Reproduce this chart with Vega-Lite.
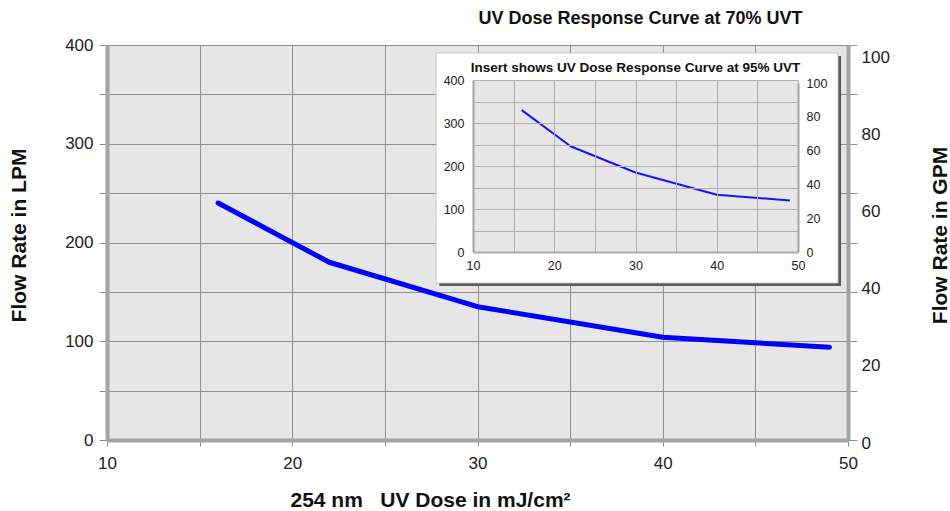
{
  "$schema": "https://vega.github.io/schema/vega-lite/v6.json",
  "width": 741,
  "height": 395,
  "autosize": {"type": "none"},
  "padding": {"left": 107, "top": 45, "right": 102, "bottom": 71},
  "background": "white",
  "title": {
    "text": "UV Dose Response Curve at 70% UVT",
    "anchor": "middle",
    "frame": "group",
    "dx": 163,
    "offset": 8,
    "font": "Liberation Sans",
    "fontSize": 18,
    "fontWeight": "bold",
    "color": "#111111"
  },
  "config": {
    "view": {"fill": "#e6e6e6", "stroke": null},
    "font": "Liberation Sans"
  },
  "datasets": {
    "uvt70": [
      {"dose": 16, "lpm": 240},
      {"dose": 22, "lpm": 180},
      {"dose": 30, "lpm": 135},
      {"dose": 40, "lpm": 104},
      {"dose": 49, "lpm": 94}
    ],
    "uvt95": [
      {"dose": 16, "lpm": 330},
      {"dose": 22, "lpm": 246},
      {"dose": 30, "lpm": 185},
      {"dose": 40, "lpm": 133},
      {"dose": 49, "lpm": 120}
    ],
    "inset": [
      {"label": "Insert shows UV Dose Response Curve at 95% UVT"}
    ]
  },
  "layer": [
    {
      "layer": [
        {
          "data": {"name": "uvt70"},
          "mark": {"type": "line", "color": "#0000ff", "strokeWidth": 5, "strokeCap": "round", "strokeJoin": "round"},
          "encoding": {
            "x": {
              "field": "dose", "type": "quantitative",
              "scale": {"domain": [10, 50], "nice": false, "zero": false},
              "axis": {
                "orient": "bottom",
                "zindex": 0,
                "values": [10, 15, 20, 25, 30, 35, 40, 45, 50],
                "labelExpr": "datum.value % 10 === 0 ? datum.label : ''",
                "grid": true, "gridColor": "#8f8f8f", "gridWidth": 1,
                "domain": true, "domainColor": "#a3a3a3", "domainWidth": 4,
                "ticks": true, "tickColor": "#8f8f8f", "tickSize": 6, "tickWidth": 1,
                "labelFont": "Liberation Sans", "labelFontSize": 17, "labelColor": "#222222",
                "labelPadding": 9, "labelFlush": false, "labelBound": false,
                "title": "254 nm\u00a0\u00a0\u00a0UV Dose in mJ/cm²",
                "titleFont": "Liberation Sans", "titleFontSize": 21, "titleFontWeight": "bold",
                "titleColor": "#111111", "titleX": 323, "titleY": 66,
                "titleAlign": "center", "titleBaseline": "alphabetic", "titleAnchor": null
              }
            },
            "y": {
              "field": "lpm", "type": "quantitative",
              "scale": {"domain": [0, 400], "nice": false},
              "axis": {
                "orient": "left",
                "zindex": 0,
                "values": [0, 50, 100, 150, 200, 250, 300, 350, 400],
                "labelExpr": "datum.value % 100 === 0 ? datum.label : ''",
                "grid": true, "gridColor": "#8f8f8f", "gridWidth": 1,
                "domain": true, "domainColor": "#a3a3a3", "domainWidth": 4,
                "ticks": true, "tickColor": "#8f8f8f", "tickSize": 8, "tickWidth": 1,
                "labelFont": "Liberation Sans", "labelFontSize": 17, "labelColor": "#222222",
                "labelPadding": 6, "labelBound": false,
                "title": "Flow Rate in LPM",
                "titleFont": "Liberation Sans", "titleFontSize": 21, "titleFontWeight": "bold",
                "titleColor": "#111111", "titleX": -88, "titleY": 190, "titleAngle": 270,
                "titleAlign": "center", "titleBaseline": "middle", "titleAnchor": null
              }
            }
          }
        },
        {
          "data": {"name": "inset"},
          "mark": {"type": "rule", "opacity": 0},
          "encoding": {
            "y": {
              "datum": 0, "type": "quantitative",
              "scale": {"domain": [0, 100], "range": [398, 12], "nice": false, "zero": false},
              "axis": {
                "orient": "right",
                "zindex": 0,
                "values": [0, 20, 40, 60, 80, 100],
                "grid": false, "domain": false, "ticks": false,
                "labelFont": "Liberation Sans", "labelFontSize": 17, "labelColor": "#222222",
                "labelPadding": 13, "labelBound": false,
                "title": "Flow Rate in GPM",
                "titleFont": "Liberation Sans", "titleFontSize": 21, "titleFontWeight": "bold",
                "titleColor": "#111111", "titleX": 92, "titleY": 190, "titleAngle": 270,
                "titleAlign": "center", "titleBaseline": "middle", "titleAnchor": null
              }
            }
          }
        },
        {
          "data": {"name": "inset"},
          "mark": {"type": "rule", "opacity": 0},
          "encoding": {
            "y": {
              "datum": 0, "type": "quantitative",
              "scale": {"domain": [0, 400], "nice": false, "zero": false},
              "axis": {
                "orient": "right",
                "zindex": 0,
                "values": [0, 50, 100, 150, 200, 250, 300, 350, 400],
                "grid": false, "labels": false,
                "domain": true, "domainColor": "#a3a3a3", "domainWidth": 4,
                "ticks": true, "tickColor": "#8f8f8f", "tickSize": 9, "tickWidth": 1,
                "title": null
              }
            }
          }
        }
      ],
      "resolve": {"scale": {"y": "independent"}, "axis": {"y": "independent"}}
    },
    {
      "layer": [
        {
          "layer": [
            {
              "data": {"name": "inset"},
              "mark": {"type": "rect", "fill": "#5a5a5a"},
              "encoding": {
                "x": {"datum": 5.85, "type": "quantitative", "scale": {"domain": [10, 50], "range": [366, 691], "nice": false, "zero": false}},
                "x2": {"datum": 55.3},
                "y": {"datum": -79, "type": "quantitative", "scale": {"domain": [0, 400], "range": [207, 35], "nice": false, "zero": false}},
                "y2": {"datum": 456}
              }
            },
            {
              "data": {"name": "inset"},
              "mark": {"type": "rect", "fill": "#ffffff", "stroke": "#c8c8c8", "strokeWidth": 1},
              "encoding": {
                "x": {"datum": 5.45, "type": "quantitative", "scale": {"domain": [10, 50], "range": [366, 691], "nice": false, "zero": false}},
                "x2": {"datum": 54.92},
                "y": {"datum": -72, "type": "quantitative", "scale": {"domain": [0, 400], "range": [207, 35], "nice": false, "zero": false}},
                "y2": {"datum": 462.8}
              }
            },
            {
              "data": {"name": "inset"},
              "mark": {"type": "rect", "fill": "#e6e6e6"},
              "encoding": {
                "x": {"datum": 10, "type": "quantitative", "scale": {"domain": [10, 50], "range": [366, 691], "nice": false, "zero": false}},
                "x2": {"datum": 50},
                "y": {"datum": 0, "type": "quantitative", "scale": {"domain": [0, 400], "range": [207, 35], "nice": false, "zero": false}},
                "y2": {"datum": 400}
              }
            },
            {
              "data": {"name": "uvt95"},
              "mark": {"type": "line", "color": "#1414ff", "strokeWidth": 2, "strokeJoin": "round"},
              "encoding": {
                "x": {
                  "field": "dose", "type": "quantitative",
                  "scale": {"domain": [10, 50], "range": [366, 691], "nice": false, "zero": false},
                  "axis": {
                    "orient": "bottom", "offset": -188, "zindex": 1,
                    "values": [10, 15, 20, 25, 30, 35, 40, 45, 50],
                    "labelExpr": "datum.value % 10 === 0 ? datum.label : ''",
                    "grid": false,
                    "domain": true, "domainColor": "#a3a3a3", "domainWidth": 2,
                    "ticks": true, "tickColor": "#b0b0b0", "tickSize": -172, "tickWidth": 1,
                    "labelFont": "Liberation Sans", "labelFontSize": 12.5, "labelColor": "#222222",
                    "labelPadding": 179, "labelFlush": false, "labelBound": false, "labelOverlap": false,
                    "title": null
                  }
                },
                "y": {
                  "field": "lpm", "type": "quantitative",
                  "scale": {"domain": [0, 400], "range": [207, 35], "nice": false, "zero": false},
                  "axis": {
                    "orient": "left", "offset": -366, "zindex": 1,
                    "values": [0, 50, 100, 150, 200, 250, 300, 350, 400],
                    "labelExpr": "datum.value % 100 === 0 ? datum.label : ''",
                    "grid": false,
                    "domain": true, "domainColor": "#a3a3a3", "domainWidth": 2,
                    "ticks": true, "tickColor": "#b0b0b0", "tickSize": -325, "tickWidth": 1,
                    "labelFont": "Liberation Sans", "labelFontSize": 12.5, "labelColor": "#222222",
                    "labelPadding": 334, "labelBound": false, "labelOverlap": false,
                    "title": null
                  }
                }
              }
            },
            {
              "data": {"name": "inset"},
              "mark": {"type": "text", "font": "Liberation Sans", "fontSize": 13.5, "fontWeight": "bold", "color": "#111111", "baseline": "alphabetic", "align": "center"},
              "encoding": {
                "x": {"datum": 30, "type": "quantitative", "scale": {"domain": [10, 50], "range": [366, 691], "nice": false, "zero": false}},
                "y": {"datum": 418, "type": "quantitative", "scale": {"domain": [0, 400], "range": [207, 35], "nice": false, "zero": false}},
                "text": {"field": "label"}
              }
            }
          ]
        },
        {
          "data": {"name": "inset"},
          "mark": {"type": "rule", "opacity": 0},
          "encoding": {
            "y": {
              "datum": 0, "type": "quantitative",
              "scale": {"domain": [0, 100], "range": [207, 38], "nice": false, "zero": false},
              "axis": {
                "orient": "right", "offset": -50, "zindex": 1,
                "values": [0, 20, 40, 60, 80, 100],
                "grid": false, "ticks": false,
                "domain": true, "domainColor": "#a3a3a3", "domainWidth": 2,
                "labelFont": "Liberation Sans", "labelFontSize": 12.5, "labelColor": "#222222",
                "labelPadding": 8, "labelBound": false,
                "title": null
              }
            }
          }
        }
      ],
      "resolve": {"scale": {"y": "independent"}, "axis": {"y": "independent"}}
    }
  ],
  "resolve": {
    "scale": {"x": "independent", "y": "independent"},
    "axis": {"x": "independent", "y": "independent"}
  }
}
